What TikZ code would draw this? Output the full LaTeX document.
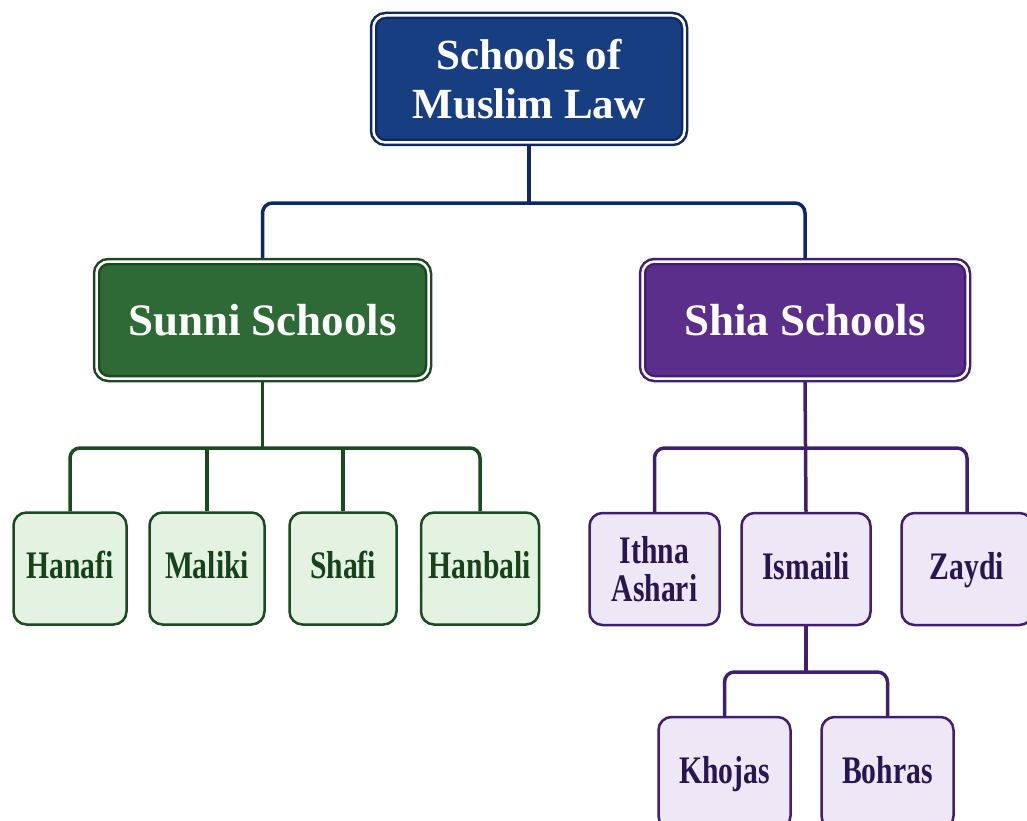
\documentclass[tikz,border=0pt]{standalone}
\usepackage{fontspec}
\setmainfont{Liberation Serif}
\newfontfamily\leaffont[FakeStretch=0.76]{Liberation Serif}
\definecolor{navyfill}{RGB}{24, 62, 130}
\definecolor{navyline}{RGB}{14, 40, 100}
\definecolor{sunnifill}{RGB}{46, 106, 54}
\definecolor{sunniline}{RGB}{26, 74, 32}
\definecolor{shiafill}{RGB}{92, 46, 140}
\definecolor{shialine}{RGB}{66, 30, 112}
\definecolor{leafgreen}{RGB}{228, 242, 225}
\definecolor{leafpurple}{RGB}{237, 231, 246}
\definecolor{greentext}{RGB}{24, 66, 28}
\definecolor{purpletext}{RGB}{40, 22, 80}
\usetikzlibrary{positioning, backgrounds}

\begin{document}
\begin{tikzpicture}[x=1pt, y=-1pt,
  headbox/.style={double=white, double distance=2.5pt, line width=2.5pt, rounded corners=12pt,
    text=white, align=center, font=\fontsize{45}{49}\selectfont\bfseries},
  rootbox/.style={headbox, draw=navyline, fill=navyfill, font=\fontsize{43}{49}\selectfont\bfseries,
    minimum width=311pt, minimum height=127pt},
  sunnibox/.style={headbox, draw=sunniline, fill=sunnifill, minimum width=332pt, minimum height=117pt},
  shiabox/.style={headbox, draw=shialine, fill=shiafill, minimum width=325pt, minimum height=117pt},
  leafbox/.style={line width=2.5pt, rounded corners=13pt, align=center, minimum height=112pt,
    text height=26pt, text depth=6pt, font=\leaffont\fontsize{39}{38}\selectfont\bfseries},
  greenleaf/.style={leafbox, draw=sunniline, fill=leafgreen, text=greentext},
  purpleleaf/.style={leafbox, draw=shialine, fill=leafpurple, text=purpletext},
  link/.style={line width=3.5pt, rounded corners=10pt}
]
  \useasboundingbox (0,0) rectangle (1027,821);
  \clip (0,0) rectangle (1027,821);

  % top
  \node[rootbox] (root) at (529,79) {Schools of\\Muslim Law};
  \node[sunnibox] (sunni) at (262.5,320) {Sunni Schools};
  \node[shiabox] (shia) at (805,320) {Shia Schools};

  % sunni schools
  \node[greenleaf, minimum width=113pt] (hanafi) at (70,568.5) {Hanafi};
  \node[greenleaf, minimum width=115pt] (maliki) at (207,568.5) {Maliki};
  \node[greenleaf, minimum width=107pt] (shafi) at (343,568.5) {Shafi};
  \node[greenleaf, minimum width=118pt] (hanbali) at (480,568.5) {Hanbali};

  % shia schools
  \node[purpleleaf, minimum width=130pt, text height={}, text depth={}] (ithna) at (654.5,569) {Ithna\\Ashari};
  \node[purpleleaf, minimum width=129pt] (ismaili) at (806,569) {Ismaili};
  \node[purpleleaf, minimum width=131pt] (zaydi) at (967,569) {Zaydi};
  \node[purpleleaf, minimum width=132pt] (khojas) at (724.5,773) {Khojas};
  \node[purpleleaf, minimum width=132pt] (bohras) at (887.5,773) {Bohras};

  \coordinate (rootbus) at (529,203);
  \coordinate (sunnibus) at (262.5,448);
  \coordinate (shiabus) at (805,448);
  \coordinate (ismailibus) at (806,672);

  \begin{scope}[on background layer]
    \draw[link, navyline] (root.south) -- (rootbus);
    \draw[link, navyline] (sunni.north) |- (rootbus) -| (shia.north);

    \draw[link, sunniline] (sunni.south) -- (sunnibus);
    \draw[link, sunniline] (hanafi.north) |- (sunnibus) -| (hanbali.north);
    \draw[link, sunniline] (maliki.north) -- (maliki.north |- sunnibus);
    \draw[link, sunniline] (shafi.north) -- (shafi.north |- sunnibus);

    \draw[link, shialine] (shia.south) -- (ismaili.north);
    \draw[link, shialine] (ithna.north) |- (shiabus) -| (zaydi.north);

    \draw[link, shialine] (ismaili.south) -- (ismailibus);
    \draw[link, shialine] (khojas.north) |- (ismailibus) -| (bohras.north);
  \end{scope}
\end{tikzpicture}
\end{document}
